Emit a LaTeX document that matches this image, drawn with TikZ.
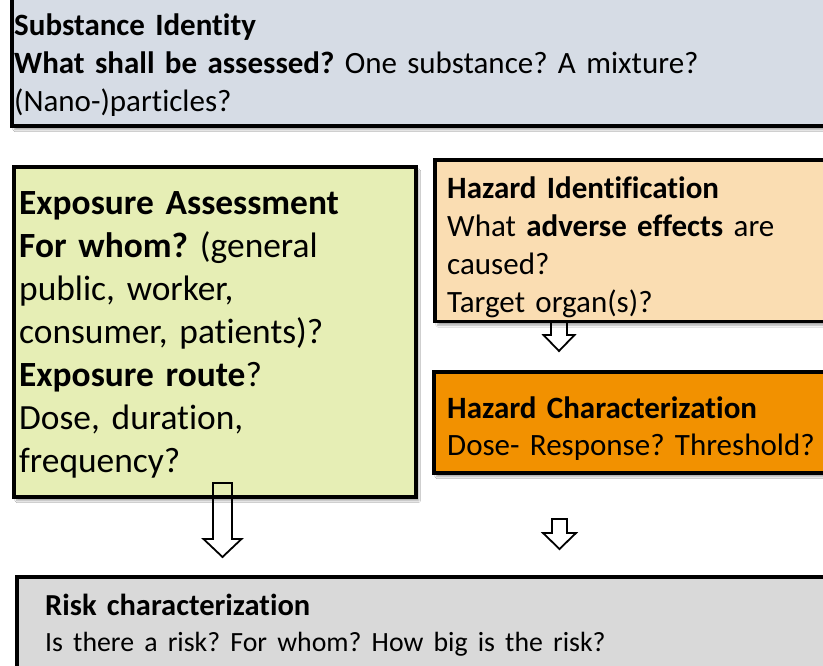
\documentclass[tikz,border=0pt]{standalone}
\usepackage{fontspec}
\setmainfont{Carlito}[Ligatures=NoCommon]
\usetikzlibrary{shadows.blur}
\frenchspacing

\definecolor{identblue}{HTML}{D6DCE5}
\definecolor{expogreen}{HTML}{E6EEB5}
\definecolor{hazpeach}{HTML}{FADDB2}
\definecolor{hazorange}{HTML}{F29100}
\definecolor{riskgray}{HTML}{D9D9D9}

\begin{document}
\begin{tikzpicture}
	[x=1pt,y=-1pt]
	\tikzstyle{panel}=[draw=black,line width=3.5pt,rectangle,anchor=north west,inner sep=0pt,
		blur shadow={shadow xshift=3pt,shadow yshift=-4pt,shadow blur steps=6,shadow opacity=35}]
	\tikzstyle{caption}=[anchor=base west,inner sep=0pt,align=left]
	\tikzstyle{flowarrow}=[draw=black,line width=1.8pt,line join=miter]

	\useasboundingbox (0,0) rectangle (823,665);
	\fill[white] (0,0) rectangle (823,665);
	\clip (0,0) rectangle (823,665);

	% boxes
	\node[panel,fill=identblue,minimum width=823pt,minimum height=134pt] (ident) at (10,-10) {};
	\node[panel,fill=expogreen,minimum width=402pt,minimum height=330pt] (expo) at (12,165) {};
	\node[panel,fill=hazpeach,minimum width=400pt,minimum height=161.5pt] (hazid) at (433,158) {};
	\node[panel,fill=hazorange,minimum width=401pt,minimum height=101pt] (hazchar) at (432,370) {};
	\node[panel,fill=riskgray,minimum width=818pt,minimum height=105pt] (risk) at (15,575) {};

	% texts
	\node[caption,text width=800pt,font=\fontsize{31}{38}\selectfont] (ident-txt) at (14,35)
		{\textbf{Substance Identity}\\
		 \textbf{What shall be assessed?} One substance? A mixture?\\
		 (Nano-)particles?};
	\node[caption,text width=390pt,font=\fontsize{35.4}{43}\selectfont] (expo-txt) at (19,214)
		{\textbf{Exposure Assessment}\\
		 \textbf{For whom?} (general\\
		 public, worker,\\
		 consumer, patients)?\\
		 \textbf{Exposure route}?\\
		 Dose, duration,\\
		 frequency?};
	\node[caption,text width=390pt,font=\fontsize{31}{38}\selectfont] (hazid-txt) at (447,198)
		{\textbf{Hazard Identification}\\
		 What \textbf{adverse effects} are\\
		 caused?\\
		 Target organ(s)?};
	\node[caption,text width=390pt,font=\fontsize{31}{37}\selectfont] (hazchar-txt) at (447,418)
		{\textbf{Hazard Characterization}\\
		 Dose- Response? Threshold?};
	\node[caption,text width=770pt,font=\fontsize{30.5}{36}\selectfont] (risk-txt) at (45,615)
		{\textbf{Risk characterization}\\
		 {\fontsize{27.8}{36}\selectfont Is there a risk? For whom? How big is the risk?}};

	% hollow block arrows
	\foreach \cx/\ytop/\yneck/\ytip/\sw/\hw in
		{559/321/335/351/8/15.5, 222.5/483/539/557/9.5/19, 559.5/519/533/549/7.5/16.5}
		\draw[flowarrow] (\cx-\sw,\ytop) -- (\cx-\sw,\yneck) -- (\cx-\hw,\yneck) -- (\cx,\ytip)
			-- (\cx+\hw,\yneck) -- (\cx+\sw,\yneck) -- (\cx+\sw,\ytop) -- cycle;
\end{tikzpicture}
\end{document}
